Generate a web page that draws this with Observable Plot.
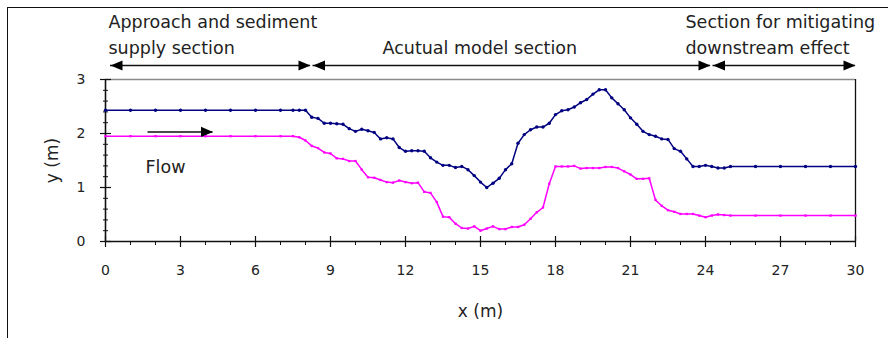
<!DOCTYPE html>
<html><head><meta charset="utf-8">
<script src="https://cdn.jsdelivr.net/npm/d3@7"></script>
<script src="https://cdn.jsdelivr.net/npm/@observablehq/plot@0.6"></script>
<style>
html,body{margin:0;padding:0;background:#fff;}
#wrap{position:relative;width:888px;height:338px;overflow:hidden;}
#border{position:absolute;left:7px;top:7px;width:1000px;height:1000px;border-left:1.7px solid #111;border-top:1.7px solid #111;}
#chart{position:absolute;left:0;top:0;}
</style></head><body>
<div id="wrap"><div id="border"></div><div id="chart"></div></div>
<script>
// Station positions along the flume (m)
const stationX = [0,1,2,3,4,5,6,7,7.5,7.75,8,8.25,8.5,8.75,9,9.25,9.5,9.75,10,10.25,10.5,10.75,11,11.25,11.5,11.75,12,12.25,12.5,12.75,13,13.25,13.5,13.75,14,14.25,14.5,14.75,15,15.25,15.5,15.75,16,16.25,16.5,16.75,17,17.25,17.5,17.75,18,18.25,18.5,18.75,19,19.25,19.5,19.75,20,20.25,20.5,20.75,21,21.25,21.5,21.75,22,22.25,22.5,22.75,23,23.25,23.5,23.75,24,24.25,24.5,24.75,25,26,27,28,29,30];
// Upper (navy) line, y (m)
const waterSurface = [2.43,2.43,2.43,2.43,2.43,2.43,2.43,2.43,2.43,2.43,
  2.43,2.30,2.28,2.19,2.19,2.18,2.17,2.09,2.04,2.08,2.05,2.02,1.90,1.92,1.90,1.74,1.67,1.68,1.68,1.67,
  1.55,1.47,1.41,1.41,1.37,1.39,1.33,1.22,1.10,1.00,1.08,1.17,1.33,1.44,1.82,1.98,2.07,2.12,2.12,2.19,
  2.35,2.42,2.44,2.49,2.57,2.63,2.73,2.81,2.81,2.66,2.55,2.44,2.29,2.17,2.04,1.98,1.95,1.90,1.89,1.72,
  1.67,1.53,1.39,1.39,1.41,1.39,1.36,1.36,1.39,1.39,1.39,1.39,1.39,1.39];
// Lower (magenta) line, y (m)
const bedLevel = [1.95,1.95,1.95,1.95,1.95,1.95,1.95,1.95,1.95,1.93,
  1.87,1.77,1.73,1.65,1.63,1.54,1.53,1.49,1.49,1.33,1.19,1.18,1.14,1.10,1.09,1.13,1.10,1.08,1.09,0.92,
  0.90,0.73,0.46,0.45,0.33,0.25,0.24,0.28,0.20,0.24,0.28,0.23,0.23,0.27,0.27,0.31,0.42,0.54,0.63,1.07,
  1.39,1.39,1.39,1.40,1.35,1.36,1.36,1.36,1.38,1.38,1.36,1.30,1.24,1.16,1.16,1.17,0.77,0.66,0.58,0.55,
  0.51,0.51,0.51,0.48,0.45,0.48,0.50,0.49,0.48,0.48,0.48,0.48,0.48,0.48];

const xDomain = [0, 30];
const yDomain = [0, 3];
const xTicks = [0,3,6,9,12,15,18,21,24,27,30];
const xMinorTicks = [1,2,4,5,7,8,10,11,13,14,16,17,19,20,22,23,25,26,28,29];
const yTicks = [0,1,2,3];
const yMinorTicks = [0.2,0.4,0.6,0.8,1.2,1.4,1.6,1.8,2.2,2.4,2.6,2.8];

// Section annotations (x in m)
const sectionStart = [0.2, 8.3, 24.3];
const sectionEnd = [8.2, 24.2, 30];
const sectionLabelX = [0.12, 11.08, 23.2];
const sectionLine1 = ["Approach and sediment", "", "Section for mitigating"];
const sectionLine2 = ["supply section", "Acutual model section", "downstream effect"];

// Flow arrow annotation
const flowArrow = [{x1: 1.7, x2: 4.3, y: 2.03}];
const flowLabel = [{x: 1.6, y: 1.37, text: "Flow"}];

const rows = stationX.map((x, i) => ({x, ws: waterSurface[i], bed: bedLevel[i]}));
const sections = sectionStart.map((s, i) => ({s, e: sectionEnd[i], lx: sectionLabelX[i], l1: sectionLine1[i], l2: sectionLine2[i]}));

const headRight = {draw(ctx, size) { const r = Math.sqrt(size / Math.PI); ctx.moveTo(0, 0); ctx.lineTo(-2 * r, -0.85 * r); ctx.lineTo(-2 * r, 0.85 * r); ctx.closePath(); }};
const headLeft = {draw(ctx, size) { const r = Math.sqrt(size / Math.PI); ctx.moveTo(0, 0); ctx.lineTo(2 * r, -0.85 * r); ctx.lineTo(2 * r, 0.85 * r); ctx.closePath(); }};

const ink = "#222";
const font = 17.5;

const chart = Plot.plot({
  width: 888,
  height: 338,
  marginLeft: 105,
  marginRight: 33,
  marginTop: 79,
  marginBottom: 97,
  style: {fontFamily: "'DejaVu Sans', Verdana, sans-serif", background: "transparent", overflow: "visible", color: ink},
  x: {domain: xDomain, axis: null},
  y: {domain: yDomain, axis: null},
  marks: [
    // frame
    Plot.ruleY([yDomain[1]], {stroke: "#8a8a8a", strokeWidth: 1.6}),
    Plot.ruleX([xDomain[1]], {stroke: "#111", strokeWidth: 1.3}),
    Plot.ruleX([xDomain[0]], {stroke: "#111", strokeWidth: 1.6}),
    Plot.ruleY([yDomain[0]], {stroke: "#111", strokeWidth: 1.6}),
    // ticks
    Plot.ruleX(xTicks, {x: d => d, y1: yDomain[0], y2: yDomain[0], insetTop: -5, insetBottom: -6, stroke: "#111", strokeWidth: 1.2}),
    Plot.ruleX(xMinorTicks, {x: d => d, y1: yDomain[0], y2: yDomain[0], insetTop: 0, insetBottom: -4, stroke: "#111", strokeWidth: 1}),
    Plot.ruleY(yTicks, {y: d => d, x1: xDomain[0], x2: xDomain[0], insetLeft: -5, insetRight: -6, stroke: "#111", strokeWidth: 1.2}),
    Plot.ruleY(yMinorTicks, {y: d => d, x1: xDomain[0], x2: xDomain[0], insetLeft: -2, insetRight: -3, stroke: "#111", strokeWidth: 1}),
    // tick labels
    Plot.axisX({ticks: xTicks, tickSize: 0, tickPadding: 24, fontSize: 14, label: null, fill: ink, tickFormat: d3.format("d")}),
    Plot.axisY({ticks: yTicks, tickSize: 0, tickPadding: 20, fontSize: 14, label: null, fill: ink, tickFormat: d3.format("d")}),
    // axis titles
    Plot.text(["x (m)"], {text: d => d, frameAnchor: "bottom", lineAnchor: "middle", dy: 70, fontSize: 17, fill: ink}),
    Plot.text(["y (m)"], {text: d => d, frameAnchor: "left", textAnchor: "middle", lineAnchor: "middle", dx: -53, rotate: -90, fontSize: 17, fill: ink}),
    // data lines
    Plot.line(rows, {x: "x", y: "ws", stroke: "#000080", strokeWidth: 1.5}),
    Plot.dot(rows, {x: "x", y: "ws", r: 1.7, fill: "#000080", stroke: "none"}),
    Plot.line(rows, {x: "x", y: "bed", stroke: "#ff00ff", strokeWidth: 1.5}),
    Plot.dot(rows, {x: "x", y: "bed", symbol: "square", r: 1.3, fill: "#ff00ff", stroke: "none"}),
    // section arrows
    Plot.ruleY(sections, {x1: "s", x2: "e", y: yDomain[1], dy: -14, stroke: "#111", strokeWidth: 1.5}),
    Plot.dot(sections, {x: "s", y: yDomain[1], dy: -14, symbol: headLeft, r: 6, fill: "#000", stroke: "none"}),
    Plot.dot(sections, {x: "e", y: yDomain[1], dy: -14, symbol: headRight, r: 6, fill: "#000", stroke: "none"}),
    // section labels
    Plot.text(sections, {x: "lx", text: "l1", frameAnchor: "top", lineAnchor: "middle", dy: -57, textAnchor: "start", fontSize: font, fill: ink}),
    Plot.text(sections, {x: "lx", text: "l2", frameAnchor: "top", lineAnchor: "middle", dy: -31.5, textAnchor: "start", fontSize: font, fill: ink}),
    // flow arrow
    Plot.ruleY(flowArrow, {x1: "x1", x2: "x2", y: "y", stroke: "#111", strokeWidth: 1.5}),
    Plot.dot(flowArrow, {x: "x2", y: "y", symbol: headRight, r: 6, fill: "#000", stroke: "none"}),
    Plot.text(flowLabel, {x: "x", y: "y", text: "text", textAnchor: "start", lineAnchor: "middle", fontSize: font, fill: ink})
  ]
});
document.getElementById("chart").appendChild(chart);
</script>
</body></html>
